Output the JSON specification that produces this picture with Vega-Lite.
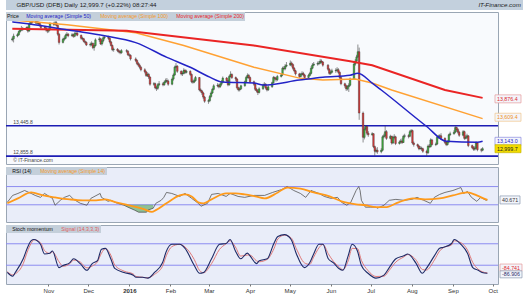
{
"$schema": "https://vega.github.io/schema/vega-lite/v6.json",
"padding": {"left": 3, "top": 0, "right": 0, "bottom": 0},
"background": "#ffffff",
"spacing": 1,
"config": {
  "font": "Liberation Sans",
  "view": {"stroke": "#9aa6b4", "strokeWidth": 1},
  "axis": {"labelFontSize": 5.5, "labelColor": "#333333", "tickColor": "#777777", "tickSize": 2, "labelPadding": 1.5, "domain": false, "grid": false},
  "legend": {"orient": "top-left", "direction": "horizontal", "fillColor": "#c4cfda", "padding": 1, "offset": 0, "labelFontSize": 5.2, "symbolSize": 0, "symbolStrokeWidth": 0, "symbolOpacity": 0, "labelOffset": 0, "columnPadding": 3, "titleFontSize": 5.2, "titleFontWeight": "normal", "titleOrient": "left", "titlePadding": 2, "labelLimit": 300, "titleColor": "#111111"}
},
"resolve": {"scale": {"color": "independent", "x": "independent", "y": "independent"}, "legend": {"color": "independent"}},
"datasets": {
"candles": [
{"d":"2015-10-01","o":15110,"h":15170,"l":15080,"c":15130},
{"d":"2015-10-02","o":15130,"h":15230,"l":15060,"c":15185},
{"d":"2015-10-05","o":15185,"h":15240,"l":15160,"c":15210},
{"d":"2015-10-06","o":15210,"h":15290,"l":15190,"c":15270},
{"d":"2015-10-07","o":15270,"h":15340,"l":15250,"c":15300},
{"d":"2015-10-08","o":15300,"h":15380,"l":15280,"c":15330},
{"d":"2015-10-09","o":15330,"h":15360,"l":15280,"c":15310},
{"d":"2015-10-12","o":15310,"h":15370,"l":15290,"c":15350},
{"d":"2015-10-13","o":15350,"h":15380,"l":15250,"c":15280},
{"d":"2015-10-14","o":15280,"h":15440,"l":15270,"c":15420},
{"d":"2015-10-15","o":15420,"h":15490,"l":15400,"c":15460},
{"d":"2015-10-16","o":15460,"h":15480,"l":15410,"c":15440},
{"d":"2015-10-19","o":15440,"h":15500,"l":15420,"c":15460},
{"d":"2015-10-20","o":15460,"h":15480,"l":15400,"c":15430},
{"d":"2015-10-21","o":15430,"h":15470,"l":15390,"c":15440},
{"d":"2015-10-22","o":15440,"h":15460,"l":15370,"c":15390},
{"d":"2015-10-23","o":15390,"h":15410,"l":15320,"c":15350},
{"d":"2015-10-26","o":15350,"h":15380,"l":15310,"c":15340},
{"d":"2015-10-27","o":15340,"h":15360,"l":15270,"c":15300},
{"d":"2015-10-28","o":15300,"h":15330,"l":15240,"c":15280},
{"d":"2015-10-29","o":15280,"h":15340,"l":15250,"c":15310},
{"d":"2015-10-30","o":15310,"h":15450,"l":15290,"c":15420},
{"d":"2015-11-02","o":15420,"h":15460,"l":15380,"c":15410},
{"d":"2015-11-03","o":15410,"h":15480,"l":15390,"c":15440},
{"d":"2015-11-04","o":15440,"h":15470,"l":15370,"c":15390},
{"d":"2015-11-05","o":15390,"h":15400,"l":15190,"c":15220},
{"d":"2015-11-06","o":15220,"h":15240,"l":15020,"c":15060},
{"d":"2015-11-09","o":15060,"h":15150,"l":15040,"c":15120},
{"d":"2015-11-10","o":15120,"h":15180,"l":15090,"c":15140},
{"d":"2015-11-11","o":15140,"h":15230,"l":15120,"c":15200},
{"d":"2015-11-12","o":15200,"h":15260,"l":15180,"c":15220},
{"d":"2015-11-13","o":15220,"h":15240,"l":15160,"c":15190},
{"d":"2015-11-16","o":15190,"h":15240,"l":15170,"c":15210},
{"d":"2015-11-17","o":15210,"h":15230,"l":15150,"c":15180},
{"d":"2015-11-18","o":15180,"h":15260,"l":15160,"c":15230},
{"d":"2015-11-19","o":15230,"h":15280,"l":15200,"c":15240},
{"d":"2015-11-20","o":15240,"h":15260,"l":15180,"c":15200},
{"d":"2015-11-23","o":15200,"h":15210,"l":15110,"c":15140},
{"d":"2015-11-24","o":15140,"h":15170,"l":15100,"c":15130},
{"d":"2015-11-25","o":15130,"h":15150,"l":15060,"c":15080},
{"d":"2015-11-26","o":15080,"h":15100,"l":15030,"c":15060},
{"d":"2015-11-27","o":15060,"h":15080,"l":14990,"c":15010},
{"d":"2015-11-30","o":15010,"h":15060,"l":14980,"c":15020},
{"d":"2015-12-01","o":15020,"h":15080,"l":14990,"c":15040},
{"d":"2015-12-02","o":15040,"h":15060,"l":14930,"c":14960},
{"d":"2015-12-03","o":14960,"h":15050,"l":14900,"c":15000},
{"d":"2015-12-04","o":15000,"h":15140,"l":14980,"c":15110},
{"d":"2015-12-07","o":15110,"h":15170,"l":15070,"c":15130},
{"d":"2015-12-08","o":15130,"h":15150,"l":15010,"c":15030},
{"d":"2015-12-09","o":15030,"h":15120,"l":15000,"c":15090},
{"d":"2015-12-10","o":15090,"h":15190,"l":15060,"c":15150},
{"d":"2015-12-11","o":15150,"h":15200,"l":15120,"c":15160},
{"d":"2015-12-14","o":15160,"h":15190,"l":15110,"c":15140},
{"d":"2015-12-15","o":15140,"h":15160,"l":15040,"c":15070},
{"d":"2015-12-16","o":15070,"h":15090,"l":14980,"c":15000},
{"d":"2015-12-17","o":15000,"h":15020,"l":14890,"c":14920},
{"d":"2015-12-18","o":14920,"h":14960,"l":14880,"c":14930},
{"d":"2015-12-21","o":14930,"h":14950,"l":14870,"c":14900},
{"d":"2015-12-22","o":14900,"h":14920,"l":14850,"c":14880},
{"d":"2015-12-23","o":14880,"h":14910,"l":14830,"c":14860},
{"d":"2015-12-24","o":14860,"h":14930,"l":14840,"c":14900},
{"d":"2015-12-28","o":14900,"h":14930,"l":14860,"c":14890},
{"d":"2015-12-29","o":14890,"h":14910,"l":14800,"c":14820},
{"d":"2015-12-30","o":14820,"h":14850,"l":14780,"c":14810},
{"d":"2015-12-31","o":14810,"h":14830,"l":14710,"c":14740},
{"d":"2016-01-04","o":14740,"h":14770,"l":14680,"c":14710},
{"d":"2016-01-05","o":14710,"h":14730,"l":14620,"c":14650},
{"d":"2016-01-06","o":14650,"h":14680,"l":14590,"c":14620},
{"d":"2016-01-07","o":14620,"h":14650,"l":14550,"c":14580},
{"d":"2016-01-08","o":14580,"h":14600,"l":14500,"c":14530},
{"d":"2016-01-11","o":14530,"h":14560,"l":14460,"c":14490},
{"d":"2016-01-12","o":14490,"h":14510,"l":14390,"c":14420},
{"d":"2016-01-13","o":14420,"h":14480,"l":14390,"c":14440},
{"d":"2016-01-14","o":14440,"h":14470,"l":14350,"c":14390},
{"d":"2016-01-15","o":14390,"h":14400,"l":14220,"c":14250},
{"d":"2016-01-18","o":14250,"h":14290,"l":14220,"c":14260},
{"d":"2016-01-19","o":14260,"h":14280,"l":14150,"c":14180},
{"d":"2016-01-20","o":14180,"h":14220,"l":14120,"c":14170},
{"d":"2016-01-21","o":14170,"h":14270,"l":14140,"c":14240},
{"d":"2016-01-22","o":14240,"h":14310,"l":14210,"c":14260},
{"d":"2016-01-25","o":14260,"h":14290,"l":14210,"c":14240},
{"d":"2016-01-26","o":14240,"h":14320,"l":14220,"c":14290},
{"d":"2016-01-27","o":14290,"h":14360,"l":14270,"c":14320},
{"d":"2016-01-28","o":14320,"h":14370,"l":14280,"c":14310},
{"d":"2016-01-29","o":14310,"h":14340,"l":14220,"c":14250},
{"d":"2016-02-01","o":14250,"h":14380,"l":14230,"c":14350},
{"d":"2016-02-02","o":14350,"h":14460,"l":14320,"c":14430},
{"d":"2016-02-03","o":14430,"h":14610,"l":14410,"c":14580},
{"d":"2016-02-04","o":14580,"h":14660,"l":14560,"c":14600},
{"d":"2016-02-05","o":14600,"h":14620,"l":14470,"c":14500},
{"d":"2016-02-08","o":14500,"h":14520,"l":14420,"c":14450},
{"d":"2016-02-09","o":14450,"h":14500,"l":14410,"c":14460},
{"d":"2016-02-10","o":14460,"h":14560,"l":14440,"c":14520},
{"d":"2016-02-11","o":14520,"h":14540,"l":14450,"c":14480},
{"d":"2016-02-12","o":14480,"h":14530,"l":14460,"c":14500},
{"d":"2016-02-15","o":14500,"h":14520,"l":14410,"c":14440},
{"d":"2016-02-16","o":14440,"h":14460,"l":14270,"c":14300},
{"d":"2016-02-17","o":14300,"h":14340,"l":14260,"c":14290},
{"d":"2016-02-18","o":14290,"h":14360,"l":14270,"c":14320},
{"d":"2016-02-19","o":14320,"h":14410,"l":14300,"c":14380},
{"d":"2016-02-22","o":14380,"h":14390,"l":14110,"c":14140},
{"d":"2016-02-23","o":14140,"h":14170,"l":14090,"c":14120},
{"d":"2016-02-24","o":14120,"h":14140,"l":14040,"c":14080},
{"d":"2016-02-25","o":14080,"h":14100,"l":13960,"c":14000},
{"d":"2016-02-26","o":14000,"h":14020,"l":13890,"c":13920},
{"d":"2016-02-29","o":13920,"h":13960,"l":13870,"c":13930},
{"d":"2016-03-01","o":13930,"h":14040,"l":13900,"c":14010},
{"d":"2016-03-02","o":14010,"h":14110,"l":13990,"c":14080},
{"d":"2016-03-03","o":14080,"h":14180,"l":14060,"c":14150},
{"d":"2016-03-04","o":14150,"h":14250,"l":14130,"c":14220},
{"d":"2016-03-07","o":14220,"h":14270,"l":14190,"c":14230},
{"d":"2016-03-08","o":14230,"h":14260,"l":14170,"c":14200},
{"d":"2016-03-09","o":14200,"h":14280,"l":14180,"c":14250},
{"d":"2016-03-10","o":14250,"h":14330,"l":14220,"c":14290},
{"d":"2016-03-11","o":14290,"h":14400,"l":14270,"c":14370},
{"d":"2016-03-14","o":14370,"h":14390,"l":14290,"c":14320},
{"d":"2016-03-15","o":14320,"h":14340,"l":14210,"c":14240},
{"d":"2016-03-16","o":14240,"h":14430,"l":14220,"c":14400},
{"d":"2016-03-17","o":14400,"h":14500,"l":14380,"c":14440},
{"d":"2016-03-18","o":14440,"h":14460,"l":14350,"c":14380},
{"d":"2016-03-21","o":14380,"h":14400,"l":14310,"c":14350},
{"d":"2016-03-22","o":14350,"h":14370,"l":14150,"c":14180},
{"d":"2016-03-23","o":14180,"h":14200,"l":14110,"c":14140},
{"d":"2016-03-24","o":14140,"h":14190,"l":14110,"c":14160},
{"d":"2016-03-25","o":14160,"h":14240,"l":14140,"c":14220},
{"d":"2016-03-28","o":14220,"h":14320,"l":14200,"c":14300},
{"d":"2016-03-29","o":14300,"h":14410,"l":14270,"c":14380},
{"d":"2016-03-30","o":14380,"h":14460,"l":14360,"c":14420},
{"d":"2016-03-31","o":14420,"h":14450,"l":14350,"c":14380},
{"d":"2016-04-01","o":14380,"h":14400,"l":14270,"c":14300},
{"d":"2016-04-04","o":14300,"h":14320,"l":14220,"c":14250},
{"d":"2016-04-05","o":14250,"h":14260,"l":14120,"c":14150},
{"d":"2016-04-06","o":14150,"h":14180,"l":14090,"c":14120},
{"d":"2016-04-07","o":14120,"h":14150,"l":14040,"c":14090},
{"d":"2016-04-08","o":14090,"h":14190,"l":14070,"c":14160},
{"d":"2016-04-11","o":14160,"h":14260,"l":14140,"c":14230},
{"d":"2016-04-12","o":14230,"h":14290,"l":14200,"c":14250},
{"d":"2016-04-13","o":14250,"h":14270,"l":14150,"c":14180},
{"d":"2016-04-14","o":14180,"h":14200,"l":14110,"c":14140},
{"d":"2016-04-15","o":14140,"h":14230,"l":14120,"c":14200},
{"d":"2016-04-18","o":14200,"h":14300,"l":14180,"c":14280},
{"d":"2016-04-19","o":14280,"h":14410,"l":14260,"c":14380},
{"d":"2016-04-20","o":14380,"h":14400,"l":14320,"c":14360},
{"d":"2016-04-21","o":14360,"h":14390,"l":14300,"c":14340},
{"d":"2016-04-22","o":14340,"h":14430,"l":14310,"c":14400},
{"d":"2016-04-25","o":14400,"h":14460,"l":14380,"c":14430},
{"d":"2016-04-26","o":14430,"h":14590,"l":14410,"c":14560},
{"d":"2016-04-27","o":14560,"h":14600,"l":14520,"c":14550},
{"d":"2016-04-28","o":14550,"h":14640,"l":14520,"c":14600},
{"d":"2016-04-29","o":14600,"h":14680,"l":14580,"c":14620},
{"d":"2016-05-02","o":14620,"h":14710,"l":14600,"c":14660},
{"d":"2016-05-03","o":14660,"h":14690,"l":14590,"c":14630},
{"d":"2016-05-04","o":14630,"h":14650,"l":14530,"c":14560},
{"d":"2016-05-05","o":14560,"h":14580,"l":14480,"c":14510},
{"d":"2016-05-06","o":14510,"h":14530,"l":14420,"c":14450},
{"d":"2016-05-09","o":14450,"h":14470,"l":14370,"c":14400},
{"d":"2016-05-10","o":14400,"h":14470,"l":14380,"c":14440},
{"d":"2016-05-11","o":14440,"h":14500,"l":14420,"c":14460},
{"d":"2016-05-12","o":14460,"h":14490,"l":14400,"c":14430},
{"d":"2016-05-13","o":14430,"h":14450,"l":14350,"c":14380},
{"d":"2016-05-16","o":14380,"h":14450,"l":14360,"c":14420},
{"d":"2016-05-17","o":14420,"h":14490,"l":14400,"c":14460},
{"d":"2016-05-18","o":14460,"h":14600,"l":14440,"c":14560},
{"d":"2016-05-19","o":14560,"h":14660,"l":14540,"c":14620},
{"d":"2016-05-20","o":14620,"h":14680,"l":14600,"c":14640},
{"d":"2016-05-23","o":14640,"h":14690,"l":14610,"c":14650},
{"d":"2016-05-24","o":14650,"h":14700,"l":14620,"c":14660},
{"d":"2016-05-25","o":14660,"h":14740,"l":14640,"c":14700},
{"d":"2016-05-26","o":14700,"h":14730,"l":14650,"c":14680},
{"d":"2016-05-27","o":14680,"h":14700,"l":14590,"c":14620},
{"d":"2016-05-31","o":14620,"h":14640,"l":14510,"c":14540},
{"d":"2016-06-01","o":14540,"h":14560,"l":14430,"c":14460},
{"d":"2016-06-02","o":14460,"h":14520,"l":14430,"c":14480},
{"d":"2016-06-03","o":14480,"h":14550,"l":14460,"c":14510},
{"d":"2016-06-06","o":14510,"h":14560,"l":14470,"c":14520},
{"d":"2016-06-07","o":14520,"h":14580,"l":14490,"c":14530},
{"d":"2016-06-08","o":14530,"h":14560,"l":14450,"c":14480},
{"d":"2016-06-09","o":14480,"h":14500,"l":14350,"c":14380},
{"d":"2016-06-10","o":14380,"h":14400,"l":14230,"c":14260},
{"d":"2016-06-13","o":14260,"h":14280,"l":14180,"c":14220},
{"d":"2016-06-14","o":14220,"h":14240,"l":14120,"c":14160},
{"d":"2016-06-15","o":14160,"h":14230,"l":14130,"c":14200},
{"d":"2016-06-16","o":14200,"h":14270,"l":14100,"c":14230},
{"d":"2016-06-17","o":14230,"h":14380,"l":14210,"c":14350},
{"d":"2016-06-20","o":14350,"h":14680,"l":14340,"c":14640},
{"d":"2016-06-21","o":14640,"h":14740,"l":14610,"c":14700},
{"d":"2016-06-22","o":14700,"h":14820,"l":14680,"c":14780},
{"d":"2016-06-23","o":14780,"h":15020,"l":14760,"c":14880},
{"d":"2016-06-24","o":14880,"h":14960,"l":13560,"c":13690},
{"d":"2016-06-27","o":13690,"h":13720,"l":13120,"c":13220},
{"d":"2016-06-28","o":13220,"h":13420,"l":13180,"c":13380},
{"d":"2016-06-29","o":13380,"h":13460,"l":13350,"c":13430},
{"d":"2016-06-30","o":13430,"h":13440,"l":13260,"c":13300},
{"d":"2016-07-01","o":13300,"h":13340,"l":13230,"c":13270},
{"d":"2016-07-04","o":13270,"h":13320,"l":13250,"c":13290},
{"d":"2016-07-05","o":13290,"h":13300,"l":13010,"c":13040},
{"d":"2016-07-06","o":13040,"h":13060,"l":12860,"c":12950},
{"d":"2016-07-07","o":12950,"h":13010,"l":12920,"c":12970},
{"d":"2016-07-08","o":12970,"h":13030,"l":12900,"c":12940},
{"d":"2016-07-11","o":12940,"h":13010,"l":12910,"c":12970},
{"d":"2016-07-12","o":12970,"h":13260,"l":12950,"c":13230},
{"d":"2016-07-13","o":13230,"h":13290,"l":13200,"c":13250},
{"d":"2016-07-14","o":13250,"h":13440,"l":13220,"c":13330},
{"d":"2016-07-15","o":13330,"h":13360,"l":13170,"c":13200},
{"d":"2016-07-18","o":13200,"h":13270,"l":13180,"c":13240},
{"d":"2016-07-19","o":13240,"h":13250,"l":13080,"c":13110},
{"d":"2016-07-20","o":13110,"h":13250,"l":13090,"c":13220},
{"d":"2016-07-21","o":13220,"h":13280,"l":13180,"c":13230},
{"d":"2016-07-22","o":13230,"h":13250,"l":13070,"c":13100},
{"d":"2016-07-25","o":13100,"h":13160,"l":13080,"c":13130},
{"d":"2016-07-26","o":13130,"h":13190,"l":13100,"c":13150},
{"d":"2016-07-27","o":13150,"h":13200,"l":13090,"c":13120},
{"d":"2016-07-28","o":13120,"h":13270,"l":13110,"c":13240},
{"d":"2016-07-29","o":13240,"h":13290,"l":13200,"c":13250},
{"d":"2016-08-01","o":13250,"h":13280,"l":13200,"c":13240},
{"d":"2016-08-02","o":13240,"h":13360,"l":13220,"c":13330},
{"d":"2016-08-03","o":13330,"h":13380,"l":13300,"c":13350},
{"d":"2016-08-04","o":13350,"h":13370,"l":13080,"c":13110},
{"d":"2016-08-05","o":13110,"h":13140,"l":13040,"c":13080},
{"d":"2016-08-08","o":13080,"h":13100,"l":13020,"c":13050},
{"d":"2016-08-09","o":13050,"h":13070,"l":12970,"c":13000},
{"d":"2016-08-10","o":13000,"h":13050,"l":12980,"c":13010},
{"d":"2016-08-11","o":13010,"h":13040,"l":12960,"c":13000},
{"d":"2016-08-12","o":13000,"h":13020,"l":12920,"c":12950},
{"d":"2016-08-15","o":12950,"h":12980,"l":12860,"c":12920},
{"d":"2016-08-16","o":12920,"h":13080,"l":12900,"c":13050},
{"d":"2016-08-17","o":13050,"h":13090,"l":13010,"c":13040},
{"d":"2016-08-18","o":13040,"h":13200,"l":13020,"c":13170},
{"d":"2016-08-19","o":13170,"h":13190,"l":13060,"c":13080},
{"d":"2016-08-22","o":13080,"h":13120,"l":13050,"c":13090},
{"d":"2016-08-23","o":13090,"h":13250,"l":13070,"c":13220},
{"d":"2016-08-24","o":13220,"h":13270,"l":13190,"c":13240},
{"d":"2016-08-25","o":13240,"h":13280,"l":13200,"c":13250},
{"d":"2016-08-26","o":13250,"h":13300,"l":13170,"c":13200},
{"d":"2016-08-29","o":13200,"h":13220,"l":13090,"c":13120},
{"d":"2016-08-30","o":13120,"h":13140,"l":13050,"c":13080},
{"d":"2016-08-31","o":13080,"h":13160,"l":13060,"c":13130},
{"d":"2016-09-01","o":13130,"h":13290,"l":13110,"c":13270},
{"d":"2016-09-02","o":13270,"h":13330,"l":13250,"c":13290},
{"d":"2016-09-05","o":13290,"h":13360,"l":13270,"c":13320},
{"d":"2016-09-06","o":13320,"h":13445,"l":13300,"c":13410},
{"d":"2016-09-07","o":13410,"h":13430,"l":13330,"c":13370},
{"d":"2016-09-08","o":13370,"h":13400,"l":13290,"c":13320},
{"d":"2016-09-09","o":13320,"h":13340,"l":13230,"c":13260},
{"d":"2016-09-12","o":13260,"h":13360,"l":13240,"c":13330},
{"d":"2016-09-13","o":13330,"h":13350,"l":13170,"c":13200},
{"d":"2016-09-14","o":13200,"h":13260,"l":13180,"c":13220},
{"d":"2016-09-15","o":13220,"h":13290,"l":13190,"c":13250},
{"d":"2016-09-16","o":13250,"h":13260,"l":13030,"c":13060},
{"d":"2016-09-19","o":13060,"h":13080,"l":12990,"c":13020},
{"d":"2016-09-20","o":13020,"h":13050,"l":12960,"c":12990},
{"d":"2016-09-21","o":12990,"h":13050,"l":12960,"c":13010},
{"d":"2016-09-22","o":13010,"h":13140,"l":12990,"c":13110},
{"d":"2016-09-23","o":13110,"h":13120,"l":12950,"c":12980},
{"d":"2016-09-26","o":12980,"h":13010,"l":12930,"c":12970},
{"d":"2016-09-27","o":12970,"h":13030,"l":12950,"c":12999.7}
],
"ma50": [
{"d":"2015-10-01","v":15459},{"d":"2015-10-13","v":15420},{"d":"2015-11-17","v":15286},{"d":"2015-12-11","v":15191},{"d":"2016-01-04","v":15057},{"d":"2016-01-28","v":14770},{"d":"2016-02-15","v":14578},{"d":"2016-03-01","v":14387},{"d":"2016-03-11","v":14291},{"d":"2016-04-04","v":14272},{"d":"2016-04-11","v":14234},{"d":"2016-05-09","v":14330},{"d":"2016-05-27","v":14387},{"d":"2016-06-17","v":14425},{"d":"2016-06-23","v":14464},{"d":"2016-07-04","v":14272},{"d":"2016-07-11","v":14138},{"d":"2016-08-15","v":13430},{"d":"2016-08-30","v":13143},{"d":"2016-09-23","v":13124},{"d":"2016-09-27","v":13143}
],
"ma100": [
{"d":"2015-10-01","v":15497},{"d":"2015-11-12","v":15401},{"d":"2016-01-04","v":15248},{"d":"2016-02-10","v":14999},{"d":"2016-04-04","v":14578},{"d":"2016-05-09","v":14368},{"d":"2016-05-27","v":14330},{"d":"2016-06-21","v":14349},{"d":"2016-07-04","v":14272},{"d":"2016-07-19","v":14138},{"d":"2016-09-27","v":13583}
],
"ma200": [
{"d":"2015-10-01","v":15325},{"d":"2015-12-28","v":15287},{"d":"2016-04-04","v":14999},{"d":"2016-06-17","v":14693},{"d":"2016-07-04","v":14617},{"d":"2016-08-29","v":14138},{"d":"2016-09-27","v":13985}
],
"rsi": [
{"d":"2015-10-01","v":35.5},{"d":"2015-10-05","v":50.6},{"d":"2015-10-09","v":54.9},{"d":"2015-10-14","v":61.4},{"d":"2015-10-19","v":54.9},{"d":"2015-10-22","v":50.6},{"d":"2015-10-26","v":46.3},{"d":"2015-10-29","v":54.9},{"d":"2015-11-04","v":44.1},{"d":"2015-11-06","v":29.0},{"d":"2015-11-10","v":39.8},{"d":"2015-11-13","v":46.3},{"d":"2015-11-17","v":50.6},{"d":"2015-11-20","v":41.9},{"d":"2015-11-25","v":33.3},{"d":"2015-11-30","v":29.0},{"d":"2015-12-03","v":44.1},{"d":"2015-12-10","v":54.9},{"d":"2015-12-11","v":46.3},{"d":"2015-12-16","v":37.6},{"d":"2015-12-18","v":39.8},{"d":"2015-12-23","v":33.3},{"d":"2015-12-28","v":29.0},{"d":"2015-12-31","v":24.7},{"d":"2016-01-05","v":18.2},{"d":"2016-01-08","v":13.8},{"d":"2016-01-14","v":13.8},{"d":"2016-01-15","v":18.2},{"d":"2016-01-19","v":22.5},{"d":"2016-01-21","v":33.3},{"d":"2016-01-25","v":39.8},{"d":"2016-01-27","v":46.3},{"d":"2016-01-29","v":57.1},{"d":"2016-02-02","v":54.9},{"d":"2016-02-08","v":48.4},{"d":"2016-02-12","v":54.9},{"d":"2016-02-17","v":44.1},{"d":"2016-02-22","v":33.3},{"d":"2016-02-24","v":26.8},{"d":"2016-02-29","v":33.3},{"d":"2016-03-03","v":52.8},{"d":"2016-03-08","v":54.9},{"d":"2016-03-14","v":48.4},{"d":"2016-03-17","v":54.9},{"d":"2016-03-23","v":48.4},{"d":"2016-03-28","v":46.3},{"d":"2016-04-04","v":50.6},{"d":"2016-04-12","v":50.6},{"d":"2016-04-18","v":57.1},{"d":"2016-04-25","v":63.6},{"d":"2016-04-29","v":70.1},{"d":"2016-05-04","v":61.4},{"d":"2016-05-09","v":54.9},{"d":"2016-05-13","v":46.3},{"d":"2016-05-17","v":61.4},{"d":"2016-05-23","v":54.9},{"d":"2016-05-27","v":48.4},{"d":"2016-06-01","v":44.1},{"d":"2016-06-06","v":46.3},{"d":"2016-06-09","v":35.5},{"d":"2016-06-13","v":29.0},{"d":"2016-06-16","v":35.5},{"d":"2016-06-20","v":61.4},{"d":"2016-06-22","v":70.1},{"d":"2016-06-23","v":61.4},{"d":"2016-06-24","v":39.8},{"d":"2016-06-27","v":24.7},{"d":"2016-07-01","v":24.7},{"d":"2016-07-05","v":24.7},{"d":"2016-07-06","v":22.5},{"d":"2016-07-11","v":29.0},{"d":"2016-07-15","v":39.8},{"d":"2016-07-20","v":41.9},{"d":"2016-07-26","v":39.8},{"d":"2016-08-01","v":41.9},{"d":"2016-08-05","v":46.3},{"d":"2016-08-10","v":39.8},{"d":"2016-08-15","v":33.3},{"d":"2016-08-18","v":46.3},{"d":"2016-08-22","v":52.8},{"d":"2016-08-26","v":57.1},{"d":"2016-09-01","v":61.4},{"d":"2016-09-05","v":65.7},{"d":"2016-09-07","v":67.9},{"d":"2016-09-09","v":54.9},{"d":"2016-09-12","v":59.2},{"d":"2016-09-15","v":46.3},{"d":"2016-09-19","v":37.6},{"d":"2016-09-22","v":46.3},{"d":"2016-09-26","v":39.8},{"d":"2016-09-27","v":40.671}
],
"rsima": [
{"d":"2015-10-01","v":33.3},{"d":"2015-10-09","v":44.1},{"d":"2015-10-19","v":57.1},{"d":"2015-10-28","v":50.6},{"d":"2015-11-06","v":46.3},{"d":"2015-11-17","v":41.9},{"d":"2015-11-27","v":39.8},{"d":"2015-12-07","v":39.8},{"d":"2015-12-14","v":41.9},{"d":"2015-12-22","v":35.5},{"d":"2015-12-31","v":29.0},{"d":"2016-01-12","v":20.3},{"d":"2016-01-18","v":14.5},{"d":"2016-01-21","v":18.2},{"d":"2016-01-29","v":33.3},{"d":"2016-02-08","v":50.6},{"d":"2016-02-12","v":52.8},{"d":"2016-02-17","v":48.4},{"d":"2016-02-22","v":35.5},{"d":"2016-02-26","v":33.3},{"d":"2016-03-03","v":41.9},{"d":"2016-03-14","v":54.9},{"d":"2016-03-21","v":54.9},{"d":"2016-03-28","v":52.8},{"d":"2016-04-05","v":48.4},{"d":"2016-04-12","v":44.1},{"d":"2016-04-22","v":57.1},{"d":"2016-04-29","v":67.9},{"d":"2016-05-09","v":65.7},{"d":"2016-05-19","v":57.1},{"d":"2016-05-31","v":48.4},{"d":"2016-06-09","v":37.6},{"d":"2016-06-20","v":31.1},{"d":"2016-06-27","v":29.0},{"d":"2016-07-05","v":24.7},{"d":"2016-07-12","v":24.7},{"d":"2016-07-22","v":35.5},{"d":"2016-08-02","v":44.1},{"d":"2016-08-11","v":41.9},{"d":"2016-08-22","v":44.1},{"d":"2016-09-01","v":50.6},{"d":"2016-09-12","v":57.1},{"d":"2016-09-19","v":50.6},{"d":"2016-09-26","v":41.9},{"d":"2016-09-27","v":40.9}
],
"stoch": [
{"d":"2015-10-01","k":-67,"s":-64},{"d":"2015-10-05","k":-81,"s":-76},{"d":"2015-10-07","k":-67,"s":-72},{"d":"2015-10-13","k":-16,"s":-34},{"d":"2015-10-16","k":23,"s":9},{"d":"2015-10-19","k":52,"s":42},{"d":"2015-10-21","k":56,"s":55},{"d":"2015-10-26","k":38,"s":44},{"d":"2015-10-29","k":2,"s":15},{"d":"2015-11-02","k":5,"s":4},{"d":"2015-11-04","k":13,"s":10},{"d":"2015-11-09","k":-49,"s":-27},{"d":"2015-11-12","k":-41,"s":-44},{"d":"2015-11-17","k":-31,"s":-35},{"d":"2015-11-20","k":-16,"s":-21},{"d":"2015-11-25","k":-34,"s":-28},{"d":"2015-11-30","k":-59,"s":-50},{"d":"2015-12-04","k":-34,"s":-43},{"d":"2015-12-08","k":-23,"s":-27},{"d":"2015-12-11","k":20,"s":5},{"d":"2015-12-14","k":23,"s":22},{"d":"2015-12-18","k":-16,"s":-2},{"d":"2015-12-21","k":-52,"s":-39},{"d":"2015-12-28","k":-67,"s":-62},{"d":"2016-01-04","k":-77,"s":-73},{"d":"2016-01-06","k":-85,"s":-82},{"d":"2016-01-11","k":-85,"s":-85},{"d":"2016-01-15","k":-88,"s":-87},{"d":"2016-01-20","k":-67,"s":-74},{"d":"2016-01-26","k":-31,"s":-44},{"d":"2016-01-29","k":13,"s":-3},{"d":"2016-02-02","k":38,"s":29},{"d":"2016-02-08","k":38,"s":38},{"d":"2016-02-12","k":23,"s":28},{"d":"2016-02-19","k":-41,"s":-19},{"d":"2016-02-23","k":-70,"s":-60},{"d":"2016-02-26","k":-67,"s":-68},{"d":"2016-03-03","k":-16,"s":-34},{"d":"2016-03-09","k":38,"s":19},{"d":"2016-03-14","k":41,"s":40},{"d":"2016-03-17","k":56,"s":51},{"d":"2016-03-21","k":13,"s":28},{"d":"2016-03-25","k":-16,"s":-6},{"d":"2016-03-30","k":5,"s":-2},{"d":"2016-04-01","k":-5,"s":-2},{"d":"2016-04-06","k":-34,"s":-24},{"d":"2016-04-08","k":-23,"s":-27},{"d":"2016-04-14","k":-16,"s":-18},{"d":"2016-04-19","k":41,"s":21},{"d":"2016-04-22","k":67,"s":58},{"d":"2016-04-27","k":74,"s":72},{"d":"2016-05-02","k":56,"s":62},{"d":"2016-05-06","k":2,"s":21},{"d":"2016-05-12","k":-49,"s":-31},{"d":"2016-05-16","k":-31,"s":-37},{"d":"2016-05-19","k":2,"s":-10},{"d":"2016-05-23","k":38,"s":25},{"d":"2016-05-26","k":38,"s":38},{"d":"2016-05-30","k":-16,"s":3},{"d":"2016-06-03","k":-31,"s":-26},{"d":"2016-06-07","k":-52,"s":-45},{"d":"2016-06-10","k":-59,"s":-57},{"d":"2016-06-14","k":-5,"s":-24},{"d":"2016-06-17","k":38,"s":23},{"d":"2016-06-21","k":13,"s":22},{"d":"2016-06-24","k":-41,"s":-22},{"d":"2016-06-29","k":-70,"s":-60},{"d":"2016-07-05","k":-88,"s":-82},{"d":"2016-07-11","k":-77,"s":-81},{"d":"2016-07-15","k":-49,"s":-59},{"d":"2016-07-20","k":-16,"s":-28},{"d":"2016-07-26","k":-5,"s":-9},{"d":"2016-07-29","k":2,"s":0},{"d":"2016-08-04","k":-31,"s":-19},{"d":"2016-08-09","k":-70,"s":-56},{"d":"2016-08-12","k":-52,"s":-58},{"d":"2016-08-18","k":-5,"s":-21},{"d":"2016-08-22","k":23,"s":13},{"d":"2016-08-25","k":27,"s":26},{"d":"2016-08-31","k":41,"s":36},{"d":"2016-09-02","k":56,"s":51},{"d":"2016-09-07","k":38,"s":44},{"d":"2016-09-12","k":5,"s":17},{"d":"2016-09-16","k":-49,"s":-30},{"d":"2016-09-20","k":-59,"s":-55},{"d":"2016-09-23","k":-67,"s":-64},{"d":"2016-09-27","k":-70,"s":-69}
],
"levels": [{"v":13445.8},{"v":12855.8}],
"ptags": [{"v":13966,"t":"13,876.4"},{"v":13609.4,"t":"13,609.4"},{"v":13143,"t":"13,143.0"},{"v":12999.7,"t":"12,999.7"}],
"rtags": [{"v":40.671,"t":"40.671"}],
"stags": [{"v":-48.6,"t":"-84.741"},{"v":-74,"t":"-86.906"}]
},
"vconcat": [
{
  "width": 520, "height": 10,
  "view": {"fill": "#c3d0dd", "stroke": null},
  "data": {"values": [{"a": "GBP/USD (DFB)    Daily    12,999.7 (+0.22%)    08:27:44", "b": "IT-Finance.com"}]},
  "layer": [
    {"mark": {"type": "text", "align": "left", "fontSize": 6.2, "color": "#1a1a1a"},
     "encoding": {"x": {"datum": 0.02, "type": "quantitative", "scale": {"domain": [0, 1]}, "axis": null}, "text": {"field": "a"}}},
    {"mark": {"type": "text", "align": "right", "fontSize": 6.2, "fontStyle": "italic", "color": "#1a1a1a"},
     "encoding": {"x": {"datum": 0.99, "type": "quantitative", "scale": {"domain": [0, 1]}, "axis": null}, "text": {"field": "b"}}}
  ]
},
{
  "width": 492, "height": 152,
  "view": {"fill": "#f8fafd"},
  "layer": [
    {"data": {"name": "levels"}, "mark": {"type": "rule", "color": "#1c1cb4", "strokeWidth": 1.6},
     "encoding": {"y": {"field": "v", "type": "quantitative", "scale": {"domain": [12703, 15650], "nice": false, "zero": false},
       "axis": {"orient": "right", "values": [13500, 14500, 15000, 15500], "format": ",", "title": null,
         "labelFontWeight": {"condition": {"test": "datum.value == 15000", "value": "bold"}, "value": "normal"}}}}},
    {"data": {"name": "levels"}, "mark": {"type": "text", "align": "left", "baseline": "bottom", "dy": -1, "dx": 1, "fontSize": 5, "color": "#444444"},
     "encoding": {"x": {"datum": {"year": 2015, "month": 10, "date": 1, "utc": true}, "type": "temporal", "scale": {"type": "utc", "domain": [{"year": 2015, "month": 9, "date": 30, "utc": true}, {"year": 2016, "month": 10, "date": 5, "utc": true}], "nice": false}, "axis": null},
       "y": {"field": "v", "type": "quantitative", "axis": null}, "text": {"field": "v", "type": "quantitative", "format": ",.1f"}}},
    {"data": {"name": "candles"}, "mark": {"type": "rule", "color": "#444444", "strokeWidth": 0.6},
     "encoding": {"x": {"field": "d", "type": "temporal", "axis": null}, "y": {"field": "l", "type": "quantitative", "axis": null}, "y2": {"field": "h"}}},
    {"data": {"name": "candles"}, "mark": {"type": "bar", "width": 1.6, "stroke": "#2a2a2a", "strokeWidth": 0.35},
     "encoding": {"x": {"field": "d", "type": "temporal", "axis": null}, "y": {"field": "o", "type": "quantitative", "axis": null}, "y2": {"field": "c"},
       "color": {"condition": {"test": "datum.c >= datum.o", "value": "#3fae3f"}, "value": "#d83c3c"}}},
    {"data": {"name": "ma100"}, "mark": {"type": "line", "strokeWidth": 1.5},
     "encoding": {"x": {"field": "d", "type": "temporal", "axis": null}, "y": {"field": "v", "type": "quantitative", "axis": null},
       "color": {"datum": "Moving average (Simple 100)", "scale": {"domain": ["Moving average (Simple 50)", "Moving average (Simple 100)", "Moving average (Simple 200)"], "range": ["#2323c6", "#ffa133", "#ea2424"]},
         "legend": {"title": "Price", "encode": {"labels": {"update": {"fill": {"signal": "datum.value == 'Moving average (Simple 50)' ? '#2323c6' : datum.value == 'Moving average (Simple 100)' ? '#f59a2a' : '#e8262a'"}}}}}}}},
    {"data": {"name": "ma200"}, "mark": {"type": "line", "strokeWidth": 2},
     "encoding": {"x": {"field": "d", "type": "temporal", "axis": null}, "y": {"field": "v", "type": "quantitative", "axis": null},
       "color": {"datum": "Moving average (Simple 200)"}}},
    {"data": {"name": "ma50"}, "mark": {"type": "line", "strokeWidth": 1.5, "interpolate": "monotone"},
     "encoding": {"x": {"field": "d", "type": "temporal", "axis": null}, "y": {"field": "v", "type": "quantitative", "axis": null},
       "color": {"datum": "Moving average (Simple 50)"}}},
    {"data": {"name": "ptags"}, "mark": {"type": "point", "shape": "M2,-4H28V4H2Z", "size": 4, "filled": true, "opacity": 1, "strokeWidth": 0.7},
     "encoding": {"x": {"datum": {"year": 2016, "month": 10, "date": 5, "utc": true}, "type": "temporal", "axis": null}, "y": {"field": "v", "type": "quantitative", "axis": null},
       "fill": {"condition": {"test": "datum.t == '12,999.7'", "value": "#f2dc00"}, "value": "#f3f5fb"},
       "stroke": {"condition": [{"test": "datum.t == '13,876.4'", "value": "#e79a9a"}, {"test": "datum.t == '13,609.4'", "value": "#f0c58a"}, {"test": "datum.t == '13,143.0'", "value": "#8a8ae0"}], "value": "#c8b400"}}},
    {"data": {"name": "ptags"}, "mark": {"type": "text", "align": "left", "dx": 4, "fontSize": 5.3, "baseline": "middle"},
     "encoding": {"x": {"datum": {"year": 2016, "month": 10, "date": 5, "utc": true}, "type": "temporal", "axis": null}, "y": {"field": "v", "type": "quantitative", "axis": null},
       "text": {"field": "t"},
       "color": {"condition": [{"test": "datum.t == '13,876.4'", "value": "#e02a2a"}, {"test": "datum.t == '13,609.4'", "value": "#f09020"}, {"test": "datum.t == '13,143.0'", "value": "#2323c6"}], "value": "#222222"}}},
    {"data": {"values": [{"t": "© IT-Finance.com"}]}, "mark": {"type": "text", "align": "left", "baseline": "bottom", "dx": 1, "dy": -1, "fontSize": 5, "color": "#444444"},
     "encoding": {"x": {"datum": {"year": 2015, "month": 10, "date": 1, "utc": true}, "type": "temporal", "axis": null}, "y": {"datum": 12703, "type": "quantitative", "axis": null}, "text": {"field": "t"}}}
  ]
},
{
  "width": 492, "height": 55,
  "view": {"fill": "#e9edf9"},
  "layer": [
    {"data": {"values": [{"v": 30}, {"v": 70}]}, "mark": {"type": "rule", "color": "#8c8cf0", "strokeWidth": 1},
     "encoding": {"y": {"field": "v", "type": "quantitative", "scale": {"domain": [-7.8, 113], "nice": false, "zero": false},
       "axis": {"orient": "right", "values": [0, 20, 60, 80, 100], "title": null,
         "labelFontWeight": {"condition": {"test": "datum.value == 100", "value": "bold"}, "value": "normal"}}}}},
    {"data": {"name": "rsi"}, "transform": [{"filter": "datum.v < 31 && time(datum.d) >= utc(2015, 11, 20) && time(datum.d) <= utc(2016, 0, 25)"}],
     "mark": {"type": "area", "color": "#5fa85f", "opacity": 0.65},
     "encoding": {"x": {"field": "d", "type": "temporal", "scale": {"type": "utc", "domain": [{"year": 2015, "month": 9, "date": 30, "utc": true}, {"year": 2016, "month": 10, "date": 5, "utc": true}], "nice": false}, "axis": null},
       "y": {"field": "v", "type": "quantitative", "axis": null}, "y2": {"datum": 30}}},
    {"data": {"name": "rsi"}, "mark": {"type": "line", "strokeWidth": 0.8},
     "encoding": {"x": {"field": "d", "type": "temporal", "axis": null}, "y": {"field": "v", "type": "quantitative", "axis": null},
       "color": {"datum": "RSI (14)", "scale": {"domain": ["RSI (14)", "Moving average (Simple 14)"], "range": ["#555555", "#ff9a1a"]},
         "legend": {"title": null, "encode": {"labels": {"update": {"fill": {"signal": "datum.value == 'RSI (14)' ? '#111111' : '#f59a2a'"}}}}}}}},
    {"data": {"name": "rsima"}, "mark": {"type": "line", "strokeWidth": 1.8, "interpolate": "monotone"},
     "encoding": {"x": {"field": "d", "type": "temporal", "axis": null}, "y": {"field": "v", "type": "quantitative", "axis": null},
       "color": {"datum": "Moving average (Simple 14)"}}},
    {"data": {"name": "rtags"}, "mark": {"type": "point", "shape": "M2,-4H22V4H2Z", "size": 4, "filled": true, "opacity": 1, "strokeWidth": 0.7, "fill": "#f3f5fb", "stroke": "#8a9ab0"},
     "encoding": {"x": {"datum": {"year": 2016, "month": 10, "date": 5, "utc": true}, "type": "temporal", "axis": null}, "y": {"field": "v", "type": "quantitative", "axis": null}}},
    {"data": {"name": "rtags"}, "mark": {"type": "text", "align": "left", "dx": 4, "fontSize": 5.3, "baseline": "middle", "color": "#333333"},
     "encoding": {"x": {"datum": {"year": 2016, "month": 10, "date": 5, "utc": true}, "type": "temporal", "axis": null}, "y": {"field": "v", "type": "quantitative", "axis": null}, "text": {"field": "t"}}}
  ]
},
{
  "width": 492, "height": 59,
  "view": {"fill": "#e9edf9"},
  "layer": [
    {"data": {"values": [{"v": 40}, {"v": -40}]}, "mark": {"type": "rule", "color": "#8c8cf0", "strokeWidth": 1},
     "encoding": {"y": {"field": "v", "type": "quantitative", "scale": {"domain": [-110, 110], "nice": false, "zero": false},
       "axis": {"orient": "right", "values": [-100, 0, 50, 100], "title": null,
         "labelFontWeight": {"condition": {"test": "abs(datum.value) == 100", "value": "bold"}, "value": "normal"}}}}},
    {"data": {"name": "stoch"}, "mark": {"type": "line", "strokeWidth": 1, "interpolate": "monotone"},
     "encoding": {"x": {"field": "d", "type": "temporal", "scale": {"type": "utc", "domain": [{"year": 2015, "month": 9, "date": 30, "utc": true}, {"year": 2016, "month": 10, "date": 5, "utc": true}], "nice": false},
         "axis": {"orient": "bottom", "title": null, "labelFontSize": 6, "tickSize": 2, "labelPadding": 1,
           "values": [{"year": 2015, "month": 11, "date": 1, "utc": true}, {"year": 2015, "month": 12, "date": 1, "utc": true}, {"year": 2016, "month": 1, "date": 1, "utc": true}, {"year": 2016, "month": 2, "date": 1, "utc": true}, {"year": 2016, "month": 3, "date": 1, "utc": true}, {"year": 2016, "month": 4, "date": 1, "utc": true}, {"year": 2016, "month": 5, "date": 1, "utc": true}, {"year": 2016, "month": 6, "date": 1, "utc": true}, {"year": 2016, "month": 7, "date": 1, "utc": true}, {"year": 2016, "month": 8, "date": 1, "utc": true}, {"year": 2016, "month": 9, "date": 1, "utc": true}, {"year": 2016, "month": 10, "date": 1, "utc": true}],
           "labelExpr": "utcmonth(datum.value) == 0 ? utcFormat(datum.value, '%Y') : utcFormat(datum.value, '%b')",
           "labelFontWeight": {"condition": {"test": "utcmonth(datum.value) == 0", "value": "bold"}, "value": "normal"}}},
       "y": {"field": "s", "type": "quantitative", "axis": null},
       "color": {"datum": "Signal (14,3,3,3)", "scale": {"domain": ["Stoch momentum", "Signal (14,3,3,3)"], "range": ["#1e2a66", "#e07a7a"]},
         "legend": {"title": null, "encode": {"labels": {"update": {"fill": {"signal": "datum.value == 'Stoch momentum' ? '#111111' : '#e06060'"}}}}}}}},
    {"data": {"name": "stoch"}, "mark": {"type": "line", "strokeWidth": 1.1, "interpolate": "monotone"},
     "encoding": {"x": {"field": "d", "type": "temporal"}, "y": {"field": "k", "type": "quantitative", "axis": null},
       "color": {"datum": "Stoch momentum"}}},
    {"data": {"name": "stags"}, "mark": {"type": "point", "shape": "M2,-3.5H24V3.5H2Z", "size": 4, "filled": true, "opacity": 1, "strokeWidth": 0.7, "fill": "#f3f5fb"},
     "encoding": {"x": {"datum": {"year": 2016, "month": 10, "date": 5, "utc": true}, "type": "temporal"}, "y": {"field": "v", "type": "quantitative", "axis": null},
       "stroke": {"condition": {"test": "datum.t == '-84.741'", "value": "#e79a9a"}, "value": "#8a9ab0"}}},
    {"data": {"name": "stags"}, "mark": {"type": "text", "align": "left", "dx": 4, "fontSize": 5.3, "baseline": "middle"},
     "encoding": {"x": {"datum": {"year": 2016, "month": 10, "date": 5, "utc": true}, "type": "temporal"}, "y": {"field": "v", "type": "quantitative", "axis": null}, "text": {"field": "t"},
       "color": {"condition": {"test": "datum.t == '-84.741'", "value": "#e02a2a"}, "value": "#1e2a66"}}}
  ]
}
]
}
